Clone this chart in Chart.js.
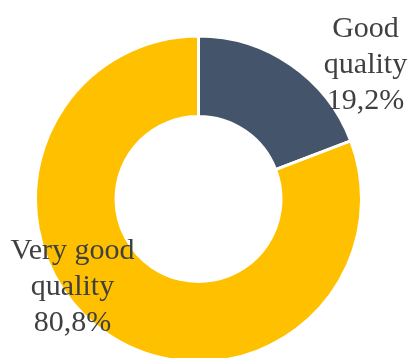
<!DOCTYPE html>
<html>
<head>
<meta charset="utf-8">
<script src="https://cdn.jsdelivr.net/npm/chart.js@4"></script>
<style>
  html, body { margin: 0; padding: 0; background: #fff; }
  #wrap { width: 412px; height: 358px; }
</style>
</head>
<body>
<div id="wrap"><canvas id="qualityChart" width="412" height="358"></canvas></div>
<script>
// Quality split
const categories = ['Good quality', 'Very good quality'];
const shares = [19.2, 80.8];
const sliceColors = ['#44546A', '#FFC000'];

// label lines and where they sit relative to the ring centre
const labelLines = [
    ['Good', 'quality', '19,2%'],
    ['Very good', 'quality', '80,8%']
];
const labelOffsets = [[167, -162], [-126, 60]];

function pct(v) {
    return v.toFixed(1).replace('.', ',') + '%';
}

const sliceLabels = {
    id: 'sliceLabels',
    afterDatasetsDraw(chart) {
        const ctx = chart.ctx;
        const arcs = chart.getDatasetMeta(0).data;
        ctx.save();
        ctx.font = '30px "Liberation Serif", "Times New Roman", serif';
        ctx.fillStyle = '#404040';
        ctx.textAlign = 'center';
        ctx.textBaseline = 'alphabetic';
        arcs.forEach((arc, i) => {
            const lines = labelLines[i].slice(0, 2).concat(pct(shares[i]));
            const x = arc.x + labelOffsets[i][0];
            let y = arc.y + labelOffsets[i][1];
            lines.forEach(line => {
                ctx.fillText(line, x, y);
                y += 36;
            });
        });
        ctx.restore();
    }
};

const ctx = document.getElementById('qualityChart');
new Chart(ctx.getContext('2d'), {
    type: 'doughnut',
    data: {
        labels: categories,
        datasets: [{
            data: shares,
            backgroundColor: sliceColors,
            borderColor: '#FFFFFF',
            borderWidth: 3,
            radius: 163,
            cutout: '50.6%',
            clip: false
        }]
    },
    options: {
        responsive: false,
        animation: false,
        layout: {
            padding: { left: 0, right: 15, top: 40, bottom: 0 }
        },
        plugins: {
            legend: { display: false },
            tooltip: { enabled: false }
        }
    },
    plugins: [sliceLabels]
});
</script>
</body>
</html>
